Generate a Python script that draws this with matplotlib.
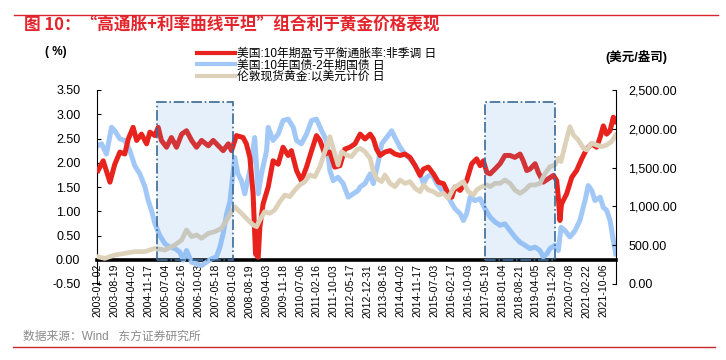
import matplotlib
matplotlib.use('Agg')
import matplotlib.pyplot as plt
import pandas as pd
from matplotlib.patches import Rectangle
from matplotlib.lines import Line2D

plt.rcParams['font.family'] = ['Liberation Sans', 'Noto Sans CJK SC']
plt.rcParams['axes.unicode_minus'] = False

# 美国:10年期盈亏平衡通胀率 (左轴, %)
red_t = [2003.02, 2003.21, 2003.46, 2003.64, 2003.83, 2004.01, 2004.14, 2004.32, 2004.45, 2004.63,
         2004.82, 2004.94, 2005.13, 2005.25, 2005.37, 2005.56, 2005.74, 2005.93, 2006.12, 2006.30,
         2006.49, 2006.67, 2006.86, 2007.11, 2007.29, 2007.48, 2007.66, 2007.85, 2007.97, 2008.15,
         2008.40, 2008.52, 2008.65, 2008.77, 2008.86, 2008.96, 2009.02, 2009.14, 2009.33, 2009.51,
         2009.70, 2009.88, 2010.07, 2010.19, 2010.38, 2010.56, 2010.75, 2010.94, 2011.12, 2011.25,
         2011.43, 2011.62, 2011.80, 2011.99, 2012.17, 2012.36, 2012.55, 2012.74, 2012.92, 2013.11,
         2013.23, 2013.35, 2013.48, 2013.66, 2013.85, 2014.03, 2014.22, 2014.40, 2014.59, 2014.78,
         2014.96, 2015.09, 2015.27, 2015.46, 2015.64, 2015.83, 2016.01, 2016.14, 2016.26, 2016.45,
         2016.57, 2016.69, 2016.88, 2017.06, 2017.19, 2017.31, 2017.44, 2017.56, 2017.74, 2017.93,
         2018.11, 2018.30, 2018.48, 2018.67, 2018.79, 2018.92, 2019.04, 2019.23, 2019.35, 2019.53,
         2019.72, 2019.91, 2020.03, 2020.09, 2020.15, 2020.21, 2020.40, 2020.59, 2020.77, 2020.96,
         2021.14, 2021.33, 2021.51, 2021.64, 2021.76, 2021.88, 2022.01, 2022.13, 2022.22]
red_v = [1.84, 2.04, 1.60, 1.97, 2.22, 2.18, 2.49, 2.73, 2.46, 2.59,
         2.39, 2.63, 2.56, 2.73, 2.46, 2.32, 2.52, 2.32, 2.59, 2.66,
         2.46, 2.32, 2.46, 2.35, 2.46, 2.35, 2.25, 2.39, 2.25, 2.56,
         2.52, 2.39, 2.11, 1.36, 0.12, 0.05, 0.67, 1.15, 1.50, 2.04,
         1.97, 2.32, 2.15, 2.25, 1.84, 1.63, 1.91, 2.25, 2.56, 2.46,
         2.18, 2.22, 1.91, 1.94, 2.28, 2.32, 2.39, 2.59, 2.49, 2.59,
         2.49, 2.28, 2.15, 2.22, 2.25, 2.18, 2.15, 2.18, 2.11, 1.94,
         1.74, 1.87, 1.91, 1.77, 1.60, 1.57, 1.36, 1.29, 1.50, 1.43,
         1.53, 1.63, 1.98, 2.08, 1.94, 2.04, 1.80, 1.77, 1.87, 1.98,
         2.15, 2.15, 2.11, 2.18, 2.04, 1.84, 1.87, 1.98, 1.80, 1.60,
         1.67, 1.74, 1.63, 1.29, 0.81, 1.15, 1.36, 1.70, 1.84, 2.08,
         2.28, 2.39, 2.32, 2.52, 2.76, 2.59, 2.66, 2.94, 2.85]

# 美国:10年国债-2年期国债 (左轴, %)
blue_t = [2003.00, 2003.15, 2003.33, 2003.52, 2003.64, 2003.83, 2004.01, 2004.20, 2004.38, 2004.57,
          2004.76, 2004.88, 2005.00, 2005.13, 2005.31, 2005.50, 2005.68, 2005.87, 2006.05, 2006.18,
          2006.30, 2006.49, 2006.67, 2006.86, 2007.04, 2007.23, 2007.41, 2007.54, 2007.66, 2007.79,
          2007.91, 2008.09, 2008.21, 2008.34, 2008.46, 2008.65, 2008.83, 2008.96, 2009.08, 2009.27,
          2009.33, 2009.51, 2009.70, 2009.88, 2010.07, 2010.26, 2010.38, 2010.56, 2010.75, 2010.94,
          2011.12, 2011.31, 2011.49, 2011.62, 2011.74, 2011.92, 2012.11, 2012.30, 2012.48, 2012.67,
          2012.74, 2012.92, 2013.11, 2013.23, 2013.42, 2013.54, 2013.72, 2013.91, 2014.03, 2014.22,
          2014.40, 2014.59, 2014.78, 2014.96, 2015.09, 2015.21, 2015.40, 2015.58, 2015.77, 2015.95,
          2016.08, 2016.26, 2016.45, 2016.57, 2016.69, 2016.82, 2017.00, 2017.19, 2017.37, 2017.56,
          2017.74, 2017.93, 2018.11, 2018.30, 2018.48, 2018.67, 2018.85, 2019.04, 2019.23, 2019.41,
          2019.53, 2019.66, 2019.78, 2019.97, 2020.09, 2020.19, 2020.34, 2020.52, 2020.71, 2020.89,
          2021.08, 2021.20, 2021.33, 2021.45, 2021.64, 2021.76, 2021.88, 2022.01, 2022.13, 2022.22]
blue_v = [2.35, 2.39, 2.18, 2.73, 2.66, 2.49, 2.46, 2.25, 1.94, 1.77,
          1.50, 1.22, 1.02, 0.74, 0.50, 0.33, 0.26, 0.23, 0.16, -0.01,
          0.19, -0.05, -0.08, -0.12, -0.05, 0.02, 0.06, 0.26, 0.54, 0.95,
          1.20, 2.11, 1.77, 1.63, 1.36, 1.84, 2.52, 1.36, 1.77, 2.25,
          2.73, 2.46, 2.59, 2.87, 2.90, 2.73, 2.46, 2.39, 2.59, 2.87,
          2.90, 2.66, 2.46, 1.84, 1.63, 1.70, 1.57, 1.29, 1.36, 1.43,
          1.50, 1.57, 1.77, 1.57, 2.04, 2.39, 2.52, 2.66, 2.52, 2.32,
          2.18, 2.08, 1.94, 1.77, 1.57, 1.70, 1.77, 1.57, 1.43, 1.36,
          1.22, 1.05, 0.95, 0.81, 0.95, 1.29, 1.22, 1.26, 1.05, 0.88,
          0.78, 0.71, 0.74, 0.60, 0.47, 0.36, 0.30, 0.23, 0.26, 0.19,
          0.06, 0.12, 0.23, 0.30, 0.19, 0.67, 0.60, 0.47, 0.60, 0.81,
          1.22, 1.53, 1.43, 1.22, 1.29, 1.08, 1.02, 0.81, 0.40, 0.12]

# 伦敦现货黄金:以美元计价 (右轴, 美元/盎司)
gold_t = [2003.00, 2003.27, 2003.64, 2004.01, 2004.38, 2004.76, 2005.13, 2005.50, 2005.87, 2006.12,
          2006.30, 2006.49, 2006.67, 2006.86, 2007.11, 2007.35, 2007.60, 2007.79, 2007.91, 2008.09,
          2008.21, 2008.40, 2008.58, 2008.77, 2008.90, 2009.02, 2009.20, 2009.39, 2009.57, 2009.76,
          2009.95, 2010.13, 2010.32, 2010.50, 2010.69, 2010.87, 2011.06, 2011.25, 2011.43, 2011.62,
          2011.74, 2011.92, 2012.05, 2012.23, 2012.42, 2012.61, 2012.74, 2012.92, 2013.11, 2013.23,
          2013.35, 2013.54, 2013.66, 2013.85, 2014.03, 2014.22, 2014.40, 2014.59, 2014.78, 2014.96,
          2015.09, 2015.27, 2015.46, 2015.64, 2015.83, 2016.01, 2016.20, 2016.38, 2016.57, 2016.75,
          2016.94, 2017.06, 2017.25, 2017.44, 2017.56, 2017.74, 2017.93, 2018.11, 2018.30, 2018.48,
          2018.67, 2018.85, 2019.04, 2019.23, 2019.41, 2019.60, 2019.78, 2019.97, 2020.09, 2020.19,
          2020.34, 2020.52, 2020.65, 2020.83, 2021.02, 2021.14, 2021.33, 2021.51, 2021.70, 2021.88,
          2022.06, 2022.22]
gold_v = [352, 330, 374, 395, 417, 417, 460, 438, 503, 567,
          696, 610, 632, 589, 653, 675, 718, 825, 900, 996,
          953, 889, 825, 761, 739, 825, 932, 911, 953, 1061,
          1147, 1125, 1211, 1276, 1319, 1405, 1383, 1512, 1705, 1899,
          1748, 1534, 1705, 1662, 1641, 1727, 1748, 1705, 1619, 1448,
          1362, 1319, 1405, 1297, 1254, 1340, 1297, 1319, 1233, 1190,
          1276, 1211, 1190, 1147, 1168, 1104, 1233, 1276, 1319, 1190,
          1147, 1211, 1254, 1276, 1254, 1297, 1297, 1340, 1297, 1211,
          1168, 1211, 1276, 1276, 1297, 1426, 1512, 1534, 1619, 1577,
          1791, 2027, 1920, 1856, 1748, 1727, 1813, 1791, 1770, 1791,
          1834, 1920]

x_labels = ['2003-01-02', '2003-08-19', '2004-04-02', '2004-11-17', '2005-07-04', '2006-02-16',
            '2006-10-03', '2007-05-18', '2008-01-03', '2008-08-19', '2009-04-03', '2009-11-18',
            '2010-07-06', '2011-02-16', '2011-10-03', '2012-05-17', '2012-12-31', '2013-08-16',
            '2014-04-02', '2014-11-17', '2015-07-03', '2016-02-17', '2016-10-03', '2017-05-19',
            '2018-01-04', '2018-08-21', '2019-04-05', '2019-11-20', '2020-07-08', '2021-02-22',
            '2021-10-06']

left_ticks = [-0.5, 0, 0.5, 1.0, 1.5, 2.0, 2.5, 3.0, 3.5]
right_ticks = [0, 500, 1000, 1500, 2000, 2500]

# 阴影区间: 高通胀 + 利率曲线平坦
box_start = [2005.20, 2017.36]
box_end = [2008.02, 2019.98]
box_top = 3.25


def to_year(s):
    d = pd.Timestamp(s)
    return d.year + (d.dayofyear - 1) / 365.25


red_c = '#e8221c'
blue_c = '#a2c8f8'
gold_c = '#ddd1ba'

fig = plt.figure(figsize=(7.26, 3.6), dpi=100)
ax = fig.add_axes([97 / 726, 76 / 360, 519 / 726, 194 / 360])

# 横轴放在 0 处, 粗黑线 (先设位置, 否则会重置刻度标签)
ax.spines['bottom'].set_position(('data', 0))
ax.spines['bottom'].set_linewidth(2.6)
ax.spines['bottom'].set_color('black')
ax.spines['bottom'].set_zorder(1)

ax2 = ax.twinx()
ax2.spines['bottom'].set_visible(False)

ax.plot(blue_t, blue_v, color=blue_c, lw=3.6, solid_joinstyle='round', zorder=2)
ax.plot(red_t, red_v, color=red_c, lw=3.6, solid_joinstyle='round', zorder=3)
ax2.plot(gold_t, gold_v, color=gold_c, lw=3.4, solid_joinstyle='round', zorder=2)

for s, e in zip(box_start, box_end):
    ax2.add_patch(Rectangle((s, 0), e - s, box_top, transform=ax.transData,
                            facecolor='#589bde', alpha=0.15, edgecolor='none', zorder=5))
    ax2.add_patch(Rectangle((s, 0), e - s, box_top, transform=ax.transData,
                            facecolor='none', edgecolor='#3a6a98', lw=1.2,
                            linestyle='-.', zorder=6))

ax.set_xlim(2002.98, 2022.23)
ax.set_ylim(-0.5, 3.5)
ax.set_yticks(left_ticks, labels=[f'{v:.2f}' for v in left_ticks])
ax2.set_ylim(0, 2500)
ax2.set_yticks(right_ticks, labels=[f'{v:,.2f}' for v in right_ticks])

ax.set_xticks([to_year(s) for s in x_labels])
ax.set_xticklabels(x_labels, rotation=90, fontsize=7.5)
ax.tick_params(axis='x', length=0, pad=3)
ax.tick_params(axis='y', direction='in', length=3, labelsize=9, pad=12)
ax2.tick_params(axis='y', direction='in', length=3, labelsize=9, pad=9)

for a in (ax, ax2):
    a.spines['top'].set_visible(False)
    a.spines['left'].set_linewidth(0.8)
    a.spines['right'].set_linewidth(0.8)
ax2.spines['left'].set_visible(False)
ax.spines['right'].set_visible(False)

handles = [Line2D([], [], color=red_c, lw=3),
           Line2D([], [], color=blue_c, lw=3),
           Line2D([], [], color=gold_c, lw=3)]
labels = ['美国:10年期盈亏平衡通胀率:非季调 日', '美国:10年国债-2年期国债 日', '伦敦现货黄金:以美元计价 日']
fig.legend(handles, labels, loc='upper left', bbox_to_anchor=(197 / 726, 1 - 48 / 360),
           frameon=False, fontsize=8.5, handlelength=3.2, handletextpad=0.2,
           labelspacing=-0.05, borderpad=0, borderaxespad=0)

fig.text(45 / 726, 1 - 52 / 360, '( %)', fontsize=8.5, fontweight='bold', va='center')
fig.text(605 / 726, 1 - 57 / 360, '(美元/盎司)', fontsize=9, fontweight='bold', va='center')

fig.text(24 / 726, 1 - 26 / 360, '图 10：“高通胀+利率曲线平坦”组合利于黄金价格表现',
         fontsize=12, fontweight='bold', color='#e3242b', va='center',
         family=['Noto Sans CJK SC', 'DejaVu Sans'])
fig.add_artist(Line2D([14 / 726, 718 / 726], [1 - 15 / 360, 1 - 15 / 360], color='#d9262c', lw=1.0))
fig.text(23 / 726, 1 - 337 / 360, '数据来源：Wind   东方证券研究所', fontsize=8.5,
         color='#8a8a8a', va='center')
fig.add_artist(Line2D([13 / 726, 715 / 726], [1 - 347 / 360, 1 - 347 / 360], color='#c8282c', lw=1.0))

fig.savefig('out.png', dpi=100)
